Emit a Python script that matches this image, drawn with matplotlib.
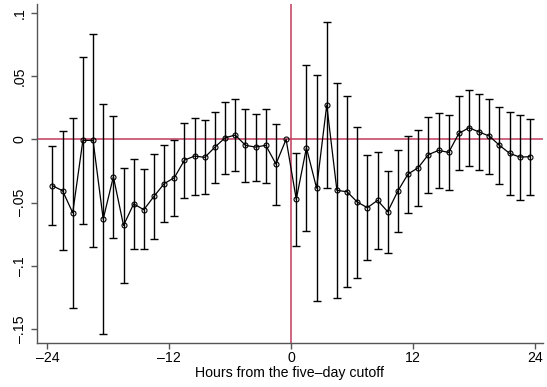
import matplotlib
matplotlib.use("Agg")
import matplotlib.pyplot as plt
import numpy as np

plt.rcParams['font.family'] = ['Liberation Sans', 'DejaVu Sans']

hours = [h + 0.5 for h in range(-24, 24)]
coef = [-0.0366, -0.0406, -0.058, -0.0008, -0.0008, -0.063, -0.0295, -0.068,
        -0.051, -0.0556, -0.045, -0.035, -0.0303, -0.0164, -0.0132, -0.0142,
        -0.0061, 0.0013, 0.0034, -0.0047, -0.0061, -0.0047, -0.0195, 0.0,
        -0.0474, -0.0066, -0.0385, 0.0271, -0.0403, -0.0414, -0.0495, -0.054,
        -0.0482, -0.0572, -0.0408, -0.0274, -0.0224, -0.0121, -0.0087, -0.0103,
        0.0047, 0.0092, 0.0058, 0.0026, -0.0047, -0.0111, -0.014, -0.0137]
upper = [-0.0053, 0.0066, 0.017, 0.0653, 0.083, 0.0276, 0.0184, -0.0227,
         -0.0153, -0.0235, -0.0114, -0.0047, -0.0006, 0.0129, 0.0166, 0.015,
         0.0218, 0.0297, 0.0316, 0.0237, 0.0197, 0.0237, 0.0123, None,
         -0.0106, 0.059, 0.051, 0.0927, 0.0445, 0.034, 0.01, -0.0127,
         -0.0098, -0.025, -0.0087, 0.0024, 0.0076, 0.0176, 0.021, 0.0194,
         0.034, 0.0392, 0.0358, 0.0321, 0.0258, 0.0218, 0.019, 0.016]
lower = [-0.068, -0.0877, -0.133, -0.067, -0.085, -0.154, -0.078, -0.1135,
         -0.087, -0.087, -0.079, -0.0656, -0.0606, -0.046, -0.0437, -0.0435,
         -0.0345, -0.0272, -0.0248, -0.0337, -0.0332, -0.0343, -0.052, None,
         -0.0845, -0.0724, -0.1277, -0.0382, -0.1254, -0.117, -0.1093, -0.0953,
         -0.0867, -0.0896, -0.0735, -0.0582, -0.0529, -0.0421, -0.0387, -0.04,
         -0.0245, -0.0211, -0.0245, -0.0274, -0.0353, -0.0442, -0.048, -0.044]

xticks = [-24, -12, 0, 12, 24]
xticklabels = ['\u201324', '\u201312', '0', '12', '24']
yticks = [0.1, 0.05, 0, -0.05, -0.1, -0.15]
yticklabels = ['.1', '.05', '0', '\u2013.05', '\u2013.1', '\u2013.15']

red = '#c23b5f'
axis_gray = '#555555'

fig = plt.figure(figsize=(5.47, 3.87), dpi=100)
ax = fig.add_axes([0.067, 0.1145, 0.926, 0.8752])

ax.axhline(0, color=red, lw=1.1, zorder=1)
ax.axvline(0, color=red, lw=1.1, zorder=1)

for x, lo, hi in zip(hours, lower, upper):
    if lo is None:
        continue
    ax.errorbar([x], [(lo + hi) / 2], yerr=[[(hi - lo) / 2], [(hi - lo) / 2]],
                fmt='none', ecolor='black', elinewidth=1.0, capsize=2.6,
                capthick=1.0, zorder=2)

ax.plot(hours, coef, color='black', lw=0.9, marker='o', ms=3.6,
        mfc='none', mec='black', mew=0.8, zorder=3)

ax.set_xlim(-25.05, 24.8)
ax.set_ylim(-0.1607, 0.107)
ax.set_xticks(xticks)
ax.set_xticklabels(xticklabels, fontsize=10.2)
ax.set_yticks(yticks)
ax.set_yticklabels(yticklabels, fontsize=10.2, rotation=90, va='center')

for s in ['top', 'right']:
    ax.spines[s].set_visible(False)
for s in ['left', 'bottom']:
    ax.spines[s].set_color(axis_gray)
    ax.spines[s].set_linewidth(1.0)
ax.tick_params(axis='both', colors=axis_gray, length=4, width=1.0, labelcolor='black')
ax.tick_params(axis='x', pad=2)
ax.tick_params(axis='y', pad=3)

ax.set_xlabel('Hours from the five\u2013day cutoff', fontsize=10.2, labelpad=1)

fig.savefig('out.png', dpi=100)
